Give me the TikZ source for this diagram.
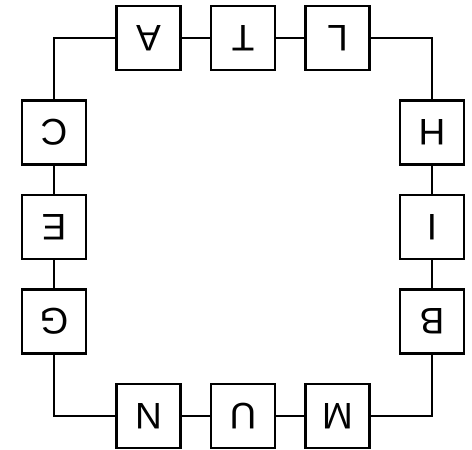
\documentclass[tikz,border=0pt]{standalone}
\usepackage{fontspec}
\setmainfont{Liberation Sans}
\usepackage{tikz}
\usetikzlibrary{positioning}

\newcommand{\flip}[1]{\rotatebox[origin=c]{180}{#1}}

\begin{document}
\begin{tikzpicture}[
      letter/.style={draw, line width=2.4pt, minimum size=64pt, inner sep=0pt,
                     font=\fontsize{37}{40}\selectfont},
      link/.style={line width=2.4pt},
      on grid, node distance=94.5pt
    ]
    \useasboundingbox (-148.5pt,38pt) rectangle (323.5pt,-412pt);
    % top row
    \node[letter] (a) {\flip{A}};
    \node[letter, right=of a] (t) {\flip{T}};
    \node[letter, right=of t] (l) {\flip{L}};
    % right column
    \node[letter, below right=94.5pt and 94.5pt of l] (h) {\flip{H}};
    \node[letter, below=of h] (i) {\flip{I}};
    \node[letter, below=of i] (b) {\flip{B}};
    % bottom row
    \node[letter, below left=94.5pt and 94.5pt of b] (m) {\flip{M}};
    \node[letter, left=of m] (u) {\flip{U}};
    \node[letter, left=of u] (n) {\flip{N}};
    % left column
    \node[letter, above left=94.5pt and 94.5pt of n] (g) {\flip{G}};
    \node[letter, above=of g] (e) {\flip{E}};
    \node[letter, above=of e] (c) {\flip{C}};
    \draw[link] (a) -- (t);
    \draw[link] (t) -- (l);
    \draw[link] (l) -| (h);
    \draw[link] (h) -- (i);
    \draw[link] (i) -- (b);
    \draw[link] (m) -| (b);
    \draw[link] (u) -- (m);
    \draw[link] (n) -- (u);
    \draw[link] (g) |- (n);
    \draw[link] (e) -- (g);
    \draw[link] (c) -- (e);
    \draw[link] (a) -| (c);
  \end{tikzpicture}
\end{document}
